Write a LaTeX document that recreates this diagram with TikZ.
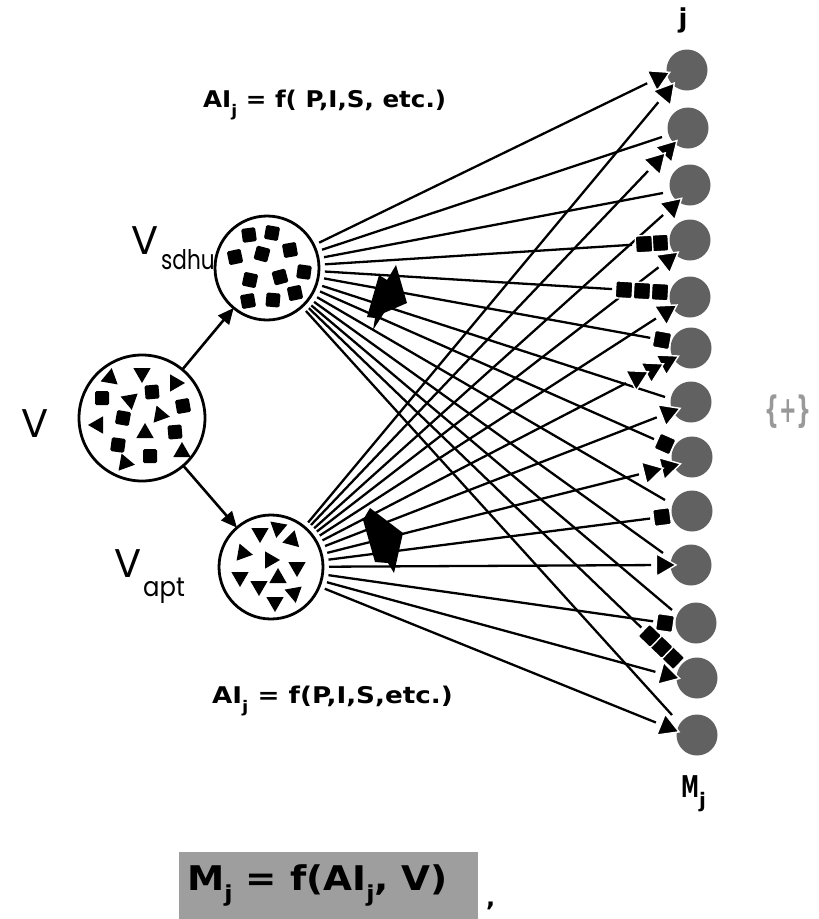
\documentclass[tikz,border=0pt]{standalone}
\usepackage{fontspec}
\setmainfont{Poppins}
\newfontfamily\fbf{DejaVu Sans}
\usetikzlibrary{calc,arrows.meta,shapes.geometric}
\newcommand\lnk[4]{%
  \ifnum#3=0\relax
    \draw[ln] ($(#1)!58pt!(#2)$) -- (#2);
  \else
    \pgfmathsetmacro\lend{(#3-1)*#4+12}%
    \draw[ln] ($(#1)!58pt!(#2)$) -- ($(#2)!\lend pt!(#1)$);
  \fi}
\newcommand\mrk[5]{%
  \pgfmathanglebetweenpoints{\pgfpointanchor{#1}{center}}{\pgfpointanchor{#2}{center}}%
  \let\lang\pgfmathresult
  \foreach \k in {1,...,#4}{%
    \pgfmathsetmacro\dd{(\k-1)*#5}%
    \node[#3,rotate=\lang] (#2-\k) at ($(#2)!\dd pt!(#1)$) {};
  }}
\begin{document}
\begin{tikzpicture}[x=1pt,y=-1pt,
  src/.style={circle,draw,line width=2.8pt,inner sep=0,outer sep=0},
  mc/.style={circle,fill=black!62,inner sep=0,minimum size=41pt},
  ln/.style={line width=2.3pt},
  tri/.style={regular polygon,regular polygon sides=3,shape border rotate=-90,fill=black,inner sep=0,minimum size=20pt},
  sqr/.style={rectangle,fill=black,inner sep=0,minimum size=14pt,rounded corners=1.5pt},
  mtri/.style={tri,draw=white,line width=1.4pt,minimum size=26pt},
  msq/.style={sqr,draw=white,line width=1.4pt,minimum size=17pt},
  lab/.style={inner sep=0,anchor=base west},
  big/.style={font=\fontsize{40}{40}\selectfont},
  subl/.style={font=\fontsize{27}{27}\selectfont},
  frm/.style={font=\fbf\bfseries\fontsize{23}{23}\selectfont},
  arr/.style={line width=2.6pt,-{Triangle[length=16pt,width=14pt]}}
  ]
\useasboundingbox (0,0) rectangle (819,919);

% source circles
\node[src,minimum size=126pt] (V) at (142,418) {};
\node[src,minimum size=104pt] (sd) at (267,268) {};
\node[src,minimum size=104pt] (ap) at (271,567) {};
\draw[arr] (V) -- (sd);
\draw[arr] (V) -- (ap);

% labels of sources
\node[lab,big] (Vl) at (21,437) {V};
\node[lab,big] (Vsd) at (131,254) {V};
\node[lab,subl] (Vsdsub) at (161,269) {\scalebox{0.8}[1]{sdhu}};
\node[lab,big] (Vap) at (114,577) {V};
\node[lab,subl] (Vapsub) at (143,596) {\scalebox{0.9}[1]{apt}};

% contents of V
\node[tri,rotate=200] (v1) at (110,378) {};
\node[tri,rotate=-90] (v2) at (142,373) {};
\node[tri,rotate=0] (v3) at (175,383) {};
\node[sqr] (v4) at (102,398) {};
\node[tri,rotate=-80] (v5) at (130,400) {};
\node[sqr,rotate=5] (v6) at (152,392) {};
\node[sqr,rotate=10] (v7) at (183,406) {};
\node[sqr,rotate=-10] (v8) at (123,418) {};
\node[tri,rotate=-10] (v9) at (160,415) {};
\node[tri,rotate=180] (v10) at (98,425) {};
\node[tri,rotate=90] (v11) at (145,433) {};
\node[sqr,rotate=5] (v12) at (175,432) {};
\node[sqr,rotate=-8] (v13) at (118,445) {};
\node[tri,rotate=-30] (v14) at (182,452) {};
\node[sqr] (v15) at (150,456) {};
\node[tri,rotate=110] (v16) at (125,463) {};

% contents of Vsdhu
\node[sqr,rotate=8] (d1) at (249,235) {};
\node[sqr,rotate=-10] (d2) at (272,233) {};
\node[sqr,rotate=12] (d3) at (235,257) {};
\node[sqr,rotate=-15] (d4) at (262,254) {};
\node[sqr,rotate=10] (d5) at (290,250) {};
\node[sqr,rotate=-12] (d6) at (250,280) {};
\node[sqr,rotate=15] (d7) at (280,277) {};
\node[sqr,rotate=-8] (d8) at (304,272) {};
\node[sqr,rotate=10] (d9) at (248,301) {};
\node[sqr,rotate=-5] (d10) at (273,300) {};
\node[sqr,rotate=12] (d11) at (295,293) {};

% contents of Vapt
\node[tri,rotate=-90] (p1) at (260,533) {};
\node[tri,rotate=-100] (p2) at (278,528) {};
\node[tri,rotate=-45] (p3) at (292,540) {};
\node[tri,rotate=-10] (p4) at (243,553) {};
\node[tri,rotate=0] (p5) at (270,560) {};
\node[tri,rotate=-90] (p6) at (297,567) {};
\node[tri,rotate=-90] (p7) at (240,577) {};
\node[tri,rotate=-90] (p8) at (259,586) {};
\node[tri,rotate=210] (p9) at (278,578) {};
\node[tri,rotate=-80] (p10) at (294,593) {};
\node[tri,rotate=-90] (p11) at (275,602) {};

% big black arrows
\fill (367,317) -- (379,275) -- (387,280) -- (396,265) -- (407,303) -- (384,313) -- (373,330) -- (375,318) -- cycle;
\fill (370,508) -- (403,533) -- (394,573) -- (388,563) -- (375,562) -- (363,520) -- cycle;

% target circles
\foreach \i/\x/\y in {0/687/70,1/688/128,2/690/185,3/690/240,4/690/297,5/691/348,6/691/402,7/692/457,8/692/511,9/691/565,10/696/623,11/697/678,12/697/735}
  \node[mc] (m\i) at (\x,\y) {};

% end points
\coordinate (s0) at (658,78);
\coordinate (s1) at (662,137);
\coordinate (s2) at (663,193);
\coordinate (s3) at (660,243);
\coordinate (s4) at (660,292);
\coordinate (s5) at (662,340);
\coordinate (s6) at (665,397);
\coordinate (s7) at (665,444);
\coordinate (s8) at (665,500);
\coordinate (s9) at (663,553);
\coordinate (s10) at (672,610);
\coordinate (s11) at (673,658);
\coordinate (s12) at (672,715);
\coordinate (a0) at (666,93);
\coordinate (a1) at (668,150);
\coordinate (a2) at (672,207);
\coordinate (a3) at (668,260);
\coordinate (a4) at (666,312);
\coordinate (a5) at (667,362);
\coordinate (a6) at (668,413);
\coordinate (a7) at (668,467);
\coordinate (a8) at (662,517);
\coordinate (a9) at (663,565);
\coordinate (a10) at (665,623);
\coordinate (a11) at (667,675);
\coordinate (a12) at (667,727);

% lines
\lnk{sd}{s0}{1}{17}
\lnk{sd}{s1}{0}{0}
\lnk{sd}{s2}{0}{0}
\lnk{sd}{s3}{2}{16}
\lnk{sd}{s4}{3}{18}
\lnk{sd}{s5}{1}{16}
\lnk{sd}{s6}{0}{0}
\lnk{sd}{s7}{1}{16}
\lnk{sd}{s8}{0}{0}
\lnk{sd}{s9}{0}{0}
\lnk{sd}{s10}{0}{0}
\lnk{sd}{s11}{3}{16}
\lnk{sd}{s12}{0}{0}
\lnk{ap}{a0}{1}{17}
\lnk{ap}{a1}{2}{17}
\lnk{ap}{a2}{1}{17}
\lnk{ap}{a3}{1}{17}
\lnk{ap}{a4}{1}{17}
\lnk{ap}{a5}{3}{17}
\lnk{ap}{a6}{1}{17}
\lnk{ap}{a7}{2}{18}
\lnk{ap}{a8}{1}{16}
\lnk{ap}{a9}{1}{17}
\lnk{ap}{a10}{1}{16}
\lnk{ap}{a11}{1}{17}
\lnk{ap}{a12}{1}{17}

% markers
\mrk{sd}{s0}{mtri}{1}{17}
\mrk{sd}{s3}{msq}{2}{16}
\mrk{sd}{s4}{msq}{3}{18}
\mrk{sd}{s5}{msq}{1}{16}
\mrk{sd}{s7}{msq}{1}{16}
\mrk{sd}{s11}{msq}{3}{16}
\mrk{ap}{a0}{mtri}{1}{17}
\mrk{ap}{a1}{mtri}{2}{17}
\mrk{ap}{a2}{mtri}{1}{17}
\mrk{ap}{a3}{mtri}{1}{17}
\mrk{ap}{a4}{mtri}{1}{17}
\mrk{ap}{a5}{mtri}{3}{17}
\mrk{ap}{a6}{mtri}{1}{17}
\mrk{ap}{a7}{mtri}{2}{18}
\mrk{ap}{a8}{msq}{1}{16}
\mrk{ap}{a9}{mtri}{1}{17}
\mrk{ap}{a10}{msq}{1}{16}
\mrk{ap}{a11}{mtri}{1}{17}
\mrk{ap}{a12}{mtri}{1}{17}

% right labels
\node[inner sep=0,anchor=base] (jl) at (683,27) {\fbf\bfseries\fontsize{26}{26}\selectfont j};
\node[lab] (Ml) at (681,797) {\fbf\bfseries\fontsize{30}{30}\selectfont\scalebox{0.6}[1]{M}\raisebox{-10pt}{\fontsize{20}{20}\selectfont j}};
\node[inner sep=0,text=black!40,font=\fbf\bfseries\fontsize{28}{28}\selectfont] (sym) at (788,412) {\scalebox{0.75}[1.3]{\{+\}}};

% formulas
\node[lab,frm] (ai1) at (203,107) {\scalebox{1.07}[1]{AI\raisebox{-9pt}{\fontsize{16}{16}\selectfont j} = f( P,I,S, etc.)}};
\node[lab,frm] (ai2) at (212,703) {\scalebox{1.14}[1]{AI\raisebox{-9pt}{\fontsize{16}{16}\selectfont j} = f(P,I,S,etc.)}};
\node[fill=black!38,inner sep=0,minimum width=299pt,minimum height=67pt,anchor=north west] (box) at (179,852) {};
\node[lab,font=\fbf\bfseries\fontsize{34}{34}\selectfont] (mf) at (187,890) {\scalebox{1.1}[1]{M\raisebox{-11pt}{\fontsize{22}{22}\selectfont j} = f(AI\raisebox{-11pt}{\fontsize{22}{22}\selectfont j}, V)}};
\node[lab,font=\fbf\bfseries\fontsize{24}{24}\selectfont] (comma) at (486,906) {,};
\end{tikzpicture}
\end{document}
